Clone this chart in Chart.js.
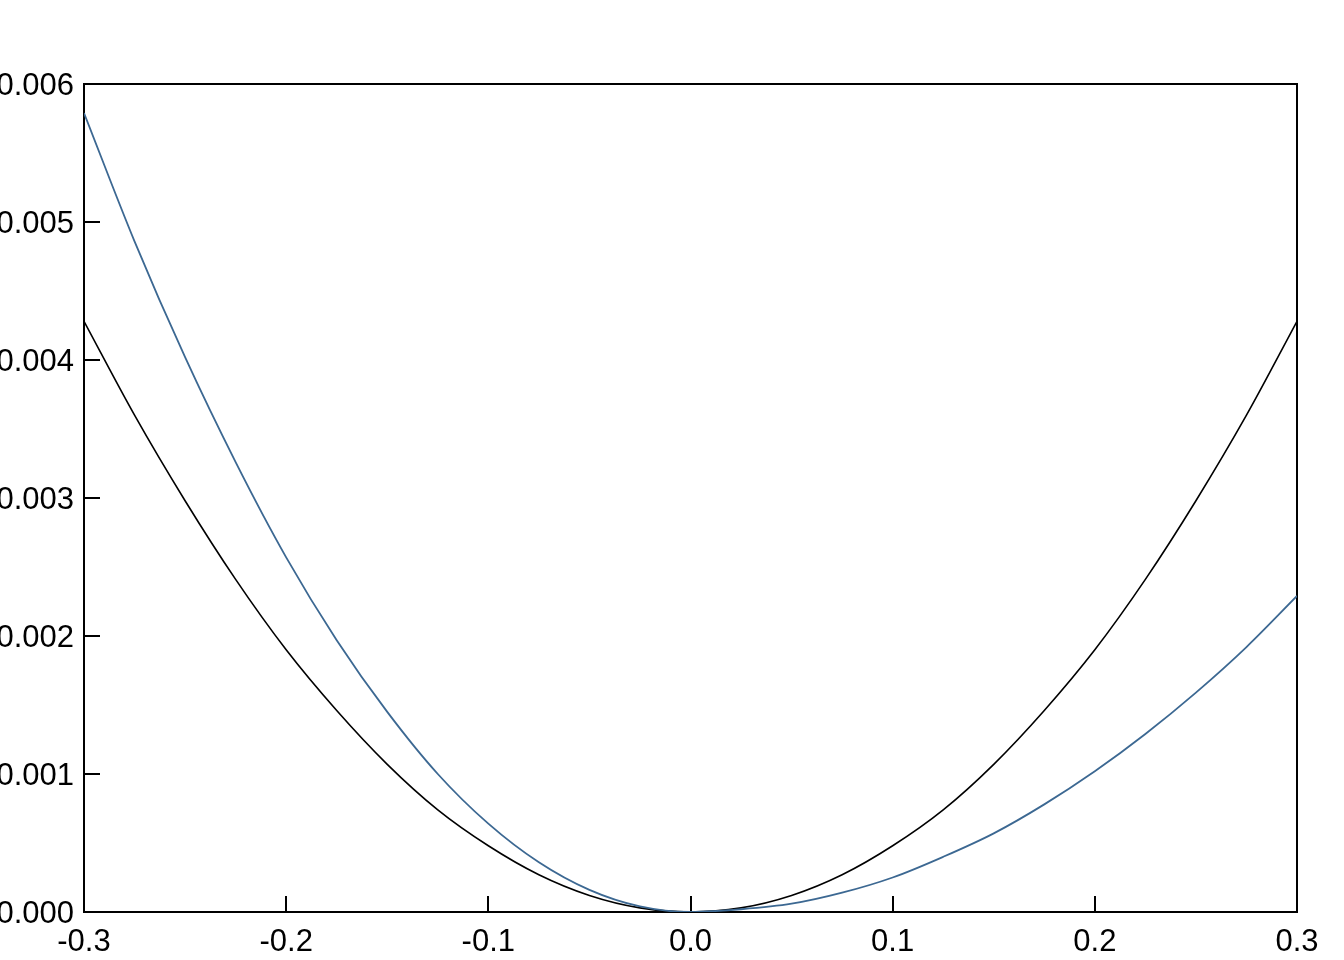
<!DOCTYPE html>
<html>
<head>
<meta charset="utf-8">
<script src="https://cdn.jsdelivr.net/npm/chart.js@4/dist/chart.umd.min.js"></script>
<style>
  html, body { margin: 0; padding: 0; background: #fff; }
  canvas { display: block; }
</style>
</head>
<body>
<canvas id="myChart" width="1344" height="960"></canvas>
<script>
const xs = [-0.3, -0.275, -0.25, -0.225, -0.2, -0.175, -0.15, -0.125, -0.1, -0.075, -0.05, -0.025, 0,
  0.025, 0.05, 0.075, 0.1, 0.125, 0.15, 0.175, 0.2, 0.225, 0.25, 0.275, 0.3];
const blackVals = [0.00428, 0.00360, 0.00298, 0.00241, 0.00190, 0.00146, 0.00107, 0.00074, 0.00048, 0.00027, 0.00012, 0.00003, 0,
  0.00003, 0.00012, 0.00027, 0.00048, 0.00074, 0.00107, 0.00146, 0.00190, 0.00241, 0.00298, 0.00360, 0.00428];
const blueVals = [0.00579, 0.00486, 0.00402, 0.00326, 0.00257, 0.00197, 0.00145, 0.00100, 0.00064, 0.00036, 0.00016, 0.00004, 0,
  0.00002, 0.00006, 0.00014, 0.00025, 0.00040, 0.00057, 0.00078, 0.00102, 0.00129, 0.00159, 0.00192, 0.00229];
const xTicks = [-0.3, -0.2, -0.1, 0.0, 0.1, 0.2, 0.3];
const yTicks = [0, 0.001, 0.002, 0.003, 0.004, 0.005, 0.006];

const toPoints = vals => vals.map((v, i) => ({x: xs[i], y: v}));

// frame, inward ticks and labels drawn from the chart's own scales
const framePlugin = {
  id: 'frameTicks',
  beforeDatasetsDraw: (chart) => {
    const {ctx, chartArea: a, scales: {x, y}} = chart;
    ctx.save();
    ctx.strokeStyle = '#000';
    ctx.lineWidth = 2;
    ctx.strokeRect(a.left, a.top, a.right - a.left, a.bottom - a.top);
    ctx.beginPath();
    xTicks.forEach(t => {
      const px = Math.round(x.getPixelForValue(t));
      ctx.moveTo(px, a.bottom);
      ctx.lineTo(px, a.bottom - 16);
    });
    yTicks.forEach(t => {
      const py = Math.round(y.getPixelForValue(t));
      ctx.moveTo(a.left, py);
      ctx.lineTo(a.left + 16, py);
    });
    ctx.stroke();
    ctx.fillStyle = '#000';
    ctx.font = '31px "Liberation Sans", Arial, sans-serif';
    ctx.textBaseline = 'middle';
    ctx.textAlign = 'center';
    xTicks.forEach(t => {
      ctx.fillText(t.toFixed(1), x.getPixelForValue(t), a.bottom + 30);
    });
    ctx.textAlign = 'right';
    yTicks.forEach(t => {
      ctx.fillText(t.toFixed(3), a.left - 10, y.getPixelForValue(t) + 2);
    });
    ctx.restore();
  }
};

new Chart(document.getElementById('myChart'), {
  type: 'line',
  data: {
    datasets: [{
      label: 'black',
      data: toPoints(blackVals),
      borderColor: '#000000',
      borderWidth: 1.6,
      pointRadius: 0,
      cubicInterpolationMode: 'monotone',
      order: 1
    }, {
      label: 'blue',
      data: toPoints(blueVals),
      borderColor: '#3c6892',
      borderWidth: 1.8,
      pointRadius: 0,
      cubicInterpolationMode: 'monotone',
      order: 0
    }]
  },
  options: {
    responsive: false,
    animation: false,
    devicePixelRatio: 1,
    layout: { padding: { left: 84, right: 47, top: 84, bottom: 48 } },
    scales: {
      x: { type: 'linear', min: -0.3, max: 0.3, display: false },
      y: { type: 'linear', min: 0, max: 0.006, display: false }
    },
    plugins: {
      legend: { display: false },
      tooltip: { enabled: false }
    }
  },
  plugins: [framePlugin]
});
</script>
</body>
</html>
